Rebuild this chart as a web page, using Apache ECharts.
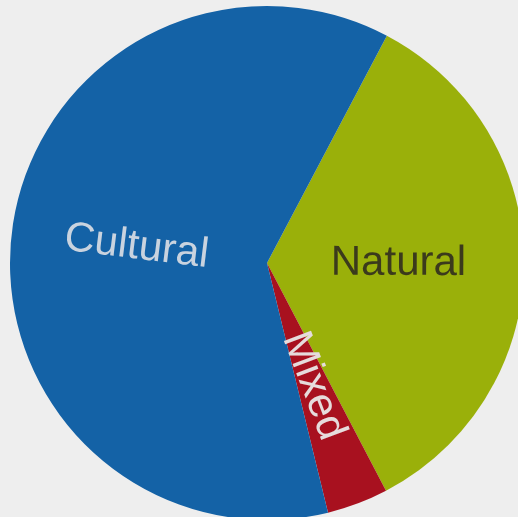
<!DOCTYPE html>
<html>
<head>
<meta charset="utf-8">
<script src="https://cdn.jsdelivr.net/npm/echarts@6/dist/echarts.min.js"></script>
<style>
html,body{margin:0;padding:0;background:#eeeeee;}
#c{width:518px;height:517px;}
</style>
</head>
<body>
<div id="c"></div>
<script>
const categories = ['Natural', 'Mixed', 'Cultural'];
const values = [9, 1, 16];
const colors = ['#9ab00a', '#a8111f', '#1462a6'];
const labelColors = ['#3b3a1c', '#e6dcdc', '#c9d3df'];

const chart = echarts.init(document.getElementById('c'), null, {renderer: 'canvas'});
chart.setOption({
  backgroundColor: '#eeeeee',
  animation: false,
  series: [{
    type: 'pie',
    center: [267, 263],
    radius: 257,
    startAngle: 62.2,
    clockwise: true,
    avoidLabelOverlap: false,
    label: {
      show: true,
      position: 'inside',
      rotate: 'radial',
      fontFamily: 'Liberation Sans, Arial, sans-serif',
      fontSize: 42,
      formatter: '{b}'
    },
    labelLine: {show: false},
    emphasis: {disabled: true},
    data: categories.map((c, i) => ({
      name: c,
      value: values[i],
      itemStyle: {color: colors[i]},
      label: {color: labelColors[i]}
    }))
  }]
});
</script>
</body>
</html>
